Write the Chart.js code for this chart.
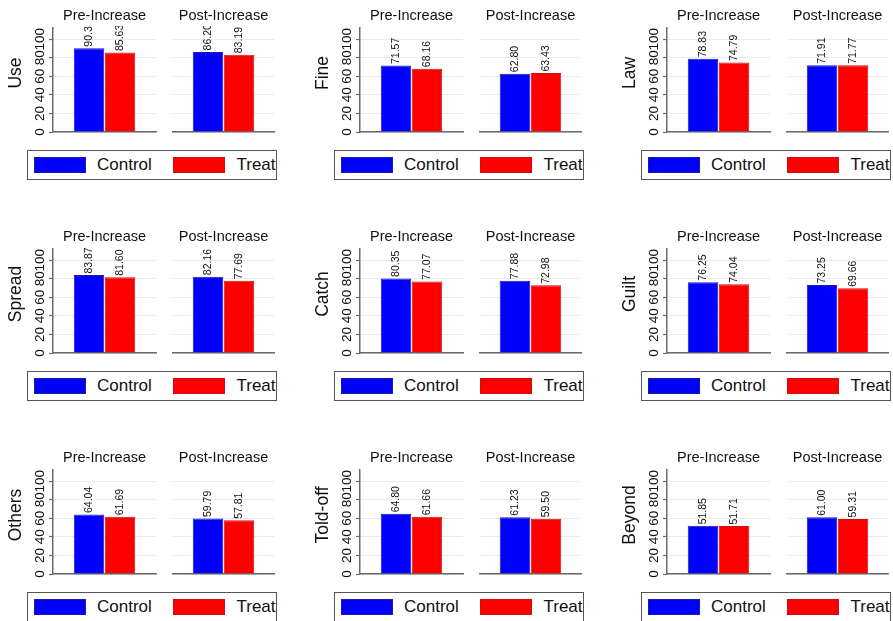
<!DOCTYPE html>
<html>
<head>
<meta charset="utf-8">
<title>Pre/Post increase by outcome</title>
<script src="https://cdn.jsdelivr.net/npm/chart.js@4.4.0/dist/chart.umd.min.js"></script>
<style>
    html, body { margin: 0; padding: 0; background: #fff; }
    body { position: relative; width: 893px; height: 621px; overflow: hidden; font-family: "Liberation Sans", Arial, sans-serif; }
    canvas { position: absolute; }
    .legend { position: absolute; box-sizing: border-box; width: 250px; height: 30px; border: 1.5px solid #555; overflow: hidden; background: #fff; }
    .swatch { position: absolute; top: 5.5px; width: 52px; height: 16px; box-sizing: border-box; border: 1px solid; }
    .ltext { position: absolute; top: 0; line-height: 27px; font-size: 17px; color: #111; white-space: nowrap; }
</style>
</head>
<body>
<script>
// Data
const outcomes = ['Use', 'Fine', 'Law', 'Spread', 'Catch', 'Guilt', 'Others', 'Told-off', 'Beyond'];
const periods = ['Pre-Increase', 'Post-Increase'];
const groups = ['Control', 'Treat'];
const yTicks = [0, 20, 40, 60, 80, 100];

const controlPre  = [90.3, 71.57, 78.83, 83.87, 80.35, 76.25, 64.04, 64.80, 51.85];
const treatPre    = [85.63, 68.16, 74.79, 81.60, 77.07, 74.04, 61.69, 61.66, 51.71];
const controlPost = [86.20, 62.80, 71.91, 82.16, 77.88, 73.25, 59.79, 61.23, 61.00];
const treatPost   = [83.19, 63.43, 71.77, 77.69, 72.98, 69.66, 57.81, 59.50, 59.31];

// the one label printed with a single decimal in the original
const shortLabels = ['Use|Pre-Increase|Control'];

// Layout
const COL_AXIS = [53, 360, 667];
const ROW_TOP = [0, 221, 442];
const COLORS = { Control: '#0000ff', Treat: '#ff0000' };
const EDGES = { Control: '#1c1ca8', Treat: '#cc1010' };
const AXIS_GRAY = '#6a6a6a';
const GRID_COLOR = '#e4ecef';
const FONT = '"Liberation Sans", Arial, sans-serif';
const TEXT = '#111';

function fmt(v, key) {
    return shortLabels.includes(key) ? String(v) : v.toFixed(2);
}

const decorPlugin = {
    id: 'decor',
    afterDatasetsDraw(chart, args, opts) {
        const { ctx, chartArea: a } = chart;
        ctx.save();
        // labels are cut just above the plot region, as in the original
        ctx.beginPath();
        ctx.rect(a.left, a.top - 2, a.right - a.left, a.bottom - a.top + 2);
        ctx.clip();
        ctx.font = '10.5px ' + FONT;
        ctx.fillStyle = TEXT;
        ctx.textAlign = 'left';
        ctx.textBaseline = 'middle';
        chart.data.datasets.forEach((ds, di) => {
            chart.getDatasetMeta(di).data.forEach((bar) => {
                ctx.save();
                ctx.translate(bar.x, bar.y - 1.5);
                ctx.rotate(-Math.PI / 2);
                ctx.fillText(opts.labels[di], 0, 0);
                ctx.restore();
            });
        });
        ctx.restore();
    },
    afterDraw(chart, args, opts) {
        const { ctx, chartArea: a } = chart;
        ctx.save();
        ctx.fillStyle = TEXT;
        ctx.textAlign = 'center';
        ctx.textBaseline = 'middle';

        // subplot title
        ctx.font = '14.5px ' + FONT;
        ctx.fillText(opts.title, (a.left + a.right) / 2, 16);

        if (opts.yTitle) {
            // rotated tick labels
            const y = chart.scales.y;
            ctx.font = '13.5px ' + FONT;
            y.ticks.forEach(t => {
                ctx.save();
                ctx.translate(a.left - 13, y.getPixelForValue(t.value));
                ctx.rotate(-Math.PI / 2);
                ctx.fillText(String(t.value), 0, 0);
                ctx.restore();
            });
            // y axis title
            ctx.font = '17.5px ' + FONT;
            ctx.save();
            ctx.translate(a.left - 37, 73);
            ctx.rotate(-Math.PI / 2);
            ctx.fillText(opts.yTitle, 0, 0);
            ctx.restore();
        }
        ctx.restore();
    }
};

function makeSubplot(left, top, width, axisW, areaW, period, outcome, values, showAxis) {
    const canvas = document.createElement('canvas');
    canvas.width = width;
    canvas.height = 140;
    canvas.style.left = left + 'px';
    canvas.style.top = top + 'px';
    document.body.appendChild(canvas);

    const labels = groups.map((g, k) => fmt(values[k], outcome + '|' + period + '|' + g));

    return new Chart(canvas, {
        type: 'bar',
        data: {
            labels: [period],
            datasets: groups.map((g, k) => ({
                label: g,
                data: [values[k]],
                backgroundColor: COLORS[g],
                borderColor: EDGES[g],
                borderWidth: 1,
                categoryPercentage: 62 / areaW,
                barPercentage: 30.5 / 31
            }))
        },
        options: {
            responsive: false,
            animation: false,
            devicePixelRatio: 1,
            layout: { padding: { left: 0, top: 28, right: width - axisW - areaW, bottom: 0 } },
            plugins: {
                legend: { display: false },
                tooltip: { enabled: false },
                title: { display: false },
                decor: { title: period, yTitle: showAxis ? outcome : null, labels: labels }
            },
            scales: {
                x: {
                    ticks: { display: false },
                    grid: { display: false },
                    border: { display: true, color: AXIS_GRAY, width: 1.5 },
                    afterFit: s => { s.height = 8; }
                },
                y: {
                    min: 0,
                    max: 112,
                    ticks: { display: false },
                    afterBuildTicks: s => { s.ticks = yTicks.map(v => ({ value: v })); },
                    grid: {
                        color: GRID_COLOR,
                        lineWidth: 1,
                        drawTicks: showAxis,
                        tickLength: 4,
                        tickColor: AXIS_GRAY,
                        tickWidth: 1.2
                    },
                    border: { display: showAxis, color: AXIS_GRAY, width: 1.5 },
                    afterFit: s => { s.width = axisW; }
                }
            }
        },
        plugins: [decorPlugin]
    });
}

function makeLegend(left, top) {
    const box = document.createElement('div');
    box.className = 'legend';
    box.style.left = left + 'px';
    box.style.top = top + 'px';
    const parts = [
        { g: 'Control', sw: 5.5, tx: 69 },
        { g: 'Treat', sw: 144.5, tx: 208.5 }
    ];
    parts.forEach(p => {
        const sw = document.createElement('div');
        sw.className = 'swatch';
        sw.style.left = p.sw + 'px';
        sw.style.background = COLORS[p.g];
        sw.style.borderColor = EDGES[p.g];
        box.appendChild(sw);
        const t = document.createElement('div');
        t.className = 'ltext';
        t.style.left = p.tx + 'px';
        t.textContent = p.g;
        box.appendChild(t);
    });
    document.body.appendChild(box);
}

outcomes.forEach((name, i) => {
    const A = COL_AXIS[i % 3];
    const top = ROW_TOP[Math.floor(i / 3)];
    // Pre: axis strip 53px + 103px plot
    makeSubplot(A - 53, top, 160, 53, 103, periods[0], name, [controlPre[i], treatPre[i]], true);
    // Post: plot 101px starting 120px right of the axis
    makeSubplot(A + 110, top, 115, 10, 101, periods[1], name, [controlPost[i], treatPost[i]], false);
    makeLegend(A - 26, top + 150);
});
</script>
</body>
</html>
